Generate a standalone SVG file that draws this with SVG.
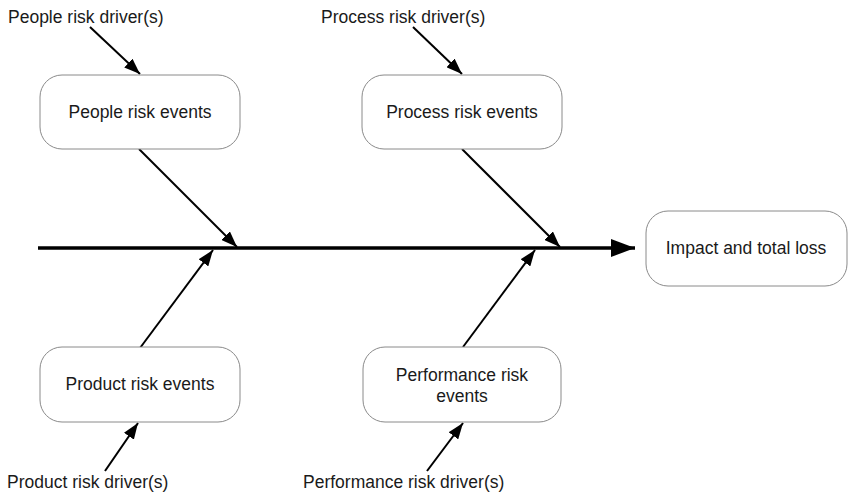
<svg xmlns="http://www.w3.org/2000/svg" width="850" height="497" viewBox="0 0 850 497">
<style>
.box{fill:#fff;stroke:#8a8a8a;stroke-width:1}
.t{font-family:"Liberation Sans",Arial,sans-serif;font-size:17.5px;fill:#1a1a1a}
.c{text-anchor:middle}
.a{stroke:#000;stroke-width:2;fill:none;marker-end:url(#ah)}
.spine{stroke:#000;stroke-width:3.5;fill:none;marker-end:url(#big)}
</style>
<defs>
<marker id="ah" markerUnits="userSpaceOnUse" viewBox="0 0 16 12" refX="16" refY="6" markerWidth="16" markerHeight="12" orient="auto">
<path d="M0,0 L16,6 L0,12 Z" fill="#000"/>
</marker>
<marker id="big" markerUnits="userSpaceOnUse" viewBox="0 0 24 18" refX="24" refY="9" markerWidth="24" markerHeight="18" orient="auto">
<path d="M0,0 L24,9 L0,18 Z" fill="#000"/>
</marker>
</defs>
<g id="connectors">
<line class="spine" x1="38" y1="248" x2="635" y2="248"/>
<line class="a" x1="90" y1="27" x2="140" y2="74"/>
<line class="a" x1="413" y1="27" x2="462" y2="74"/>
<line class="a" x1="139" y1="149" x2="237" y2="247"/>
<line class="a" x1="462" y1="149" x2="560" y2="247"/>
<line class="a" x1="140" y1="348" x2="213" y2="250"/>
<line class="a" x1="463" y1="347" x2="535" y2="250"/>
<line class="a" x1="105" y1="471" x2="138" y2="423"/>
<line class="a" x1="427" y1="471" x2="463" y2="423"/>
</g>
<g id="people-driver"><text class="t" x="8" y="23">People risk driver(s)</text></g>
<g id="process-driver"><text class="t" x="321" y="23">Process risk driver(s)</text></g>
<g id="product-driver"><text class="t" x="7" y="488">Product risk driver(s)</text></g>
<g id="performance-driver"><text class="t" x="303" y="488">Performance risk driver(s)</text></g>
<g id="people-events">
<rect class="box" x="40" y="75" width="200" height="74" rx="22"/>
<text class="t c" x="140" y="118">People risk events</text>
</g>
<g id="process-events">
<rect class="box" x="362" y="75" width="200" height="74" rx="22"/>
<text class="t c" x="462" y="118">Process risk events</text>
</g>
<g id="product-events">
<rect class="box" x="40" y="347" width="200" height="75" rx="22"/>
<text class="t c" x="140" y="390">Product risk events</text>
</g>
<g id="performance-events">
<rect class="box" x="363" y="347" width="198" height="75" rx="22"/>
<text class="t c" x="462" y="381">Performance risk</text>
<text class="t c" x="462" y="402">events</text>
</g>
<g id="impact">
<rect class="box" x="646" y="211" width="201" height="75" rx="22"/>
<text class="t c" x="746" y="254">Impact and total loss</text>
</g>
</svg>
